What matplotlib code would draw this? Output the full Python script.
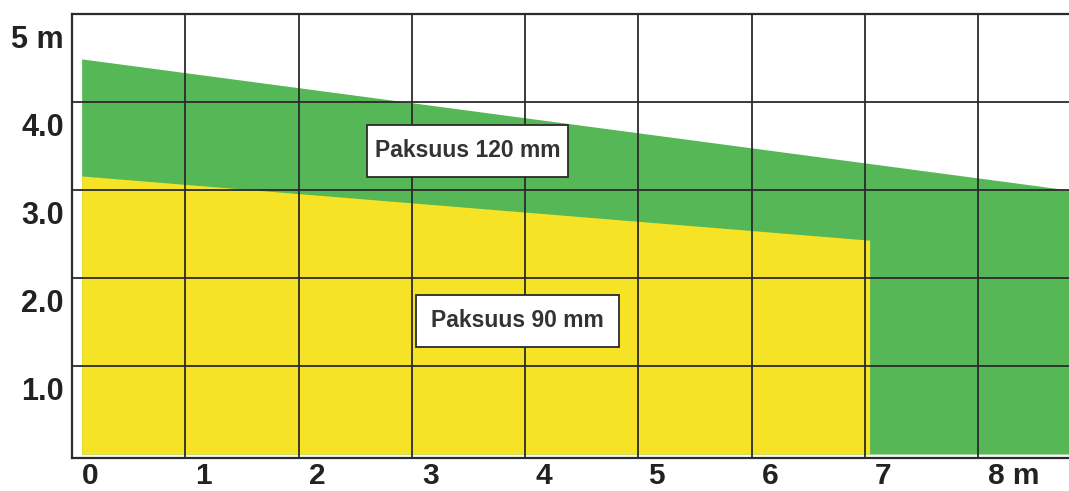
import matplotlib.pyplot as plt
from matplotlib.transforms import ScaledTranslation
from matplotlib.patches import Rectangle

# Span (m) and height (m) of the two wall thicknesses
green_x = [0.085, 8.8]
green_top = [4.49, 3.0]
yellow_x = [0.085, 7.04]
yellow_top = [3.16, 2.43]

labels = ["Paksuus 120 mm", "Paksuus 90 mm"]

x_ticks = [0, 1, 2, 3, 4, 5, 6, 7, 8]
x_tick_labels = ["0", "1", "2", "3", "4", "5", "6", "7", "8 m"]
y_ticks = [1, 2, 3, 4, 5]
y_tick_labels = ["1.0", "2.0", "3.0", "4.0", "5 m"]

green = "#56b757"
yellow = "#f7e325"
dark = "#2b2b2b"
font = "Liberation Sans"

fig = plt.figure(figsize=(10.69, 4.91), dpi=100)
ax = fig.add_axes([72 / 1069, 33 / 491, 997 / 1069, 444 / 491])

ax.fill_between(green_x, 0, green_top, color=green, lw=0, zorder=1)
ax.fill_between(yellow_x, 0, yellow_top, color=yellow, lw=0, zorder=1.2)

ax.set_xlim(0.02, 8.8)
ax.set_ylim(-0.045, 5.0)

ax.set_xticks(x_ticks)
ax.set_xticklabels(x_tick_labels)
ax.set_yticks(y_ticks)
ax.set_yticklabels(y_tick_labels)
ax.tick_params(length=0, labelsize=22, labelcolor="#222222", pad=6)
ax.tick_params(axis="x", pad=3, labelsize=21.5)
ax.grid(True, color=dark, lw=1.3)
ax.set_axisbelow(False)

# tick labels sit beside the grid lines, not on them
dx = ScaledTranslation(10 / 100, 0, fig.dpi_scale_trans)
dy = ScaledTranslation(0, -22 / 100, fig.dpi_scale_trans)
for lab in ax.get_xticklabels():
    lab.set_fontfamily(font)
    lab.set_fontweight("bold")
    lab.set_horizontalalignment("left")
    lab.set_transform(lab.get_transform() + dx)
for lab in ax.get_yticklabels():
    lab.set_fontfamily(font)
    lab.set_fontweight("bold")
    lab.set_transform(lab.get_transform() + dy)

for side in ["left", "top", "bottom"]:
    ax.spines[side].set_color(dark)
    ax.spines[side].set_linewidth(1.6)
ax.spines["right"].set_visible(False)

# label boxes
boxes = [(2.60, 3.15, 1.78, 0.59), (3.04, 1.22, 1.79, 0.59)]
for text, (bx, by, bw, bh) in zip(labels, boxes):
    ax.add_patch(Rectangle((bx, by), bw, bh, facecolor="white",
                           edgecolor=dark, lw=1.3, zorder=3))
    ax.text(bx + bw / 2, by + bh / 2, text, ha="center", va="center",
            fontsize=16.5, fontfamily=font, fontweight="bold",
            color="#333333", zorder=4)

fig.savefig("out.png", dpi=100)
